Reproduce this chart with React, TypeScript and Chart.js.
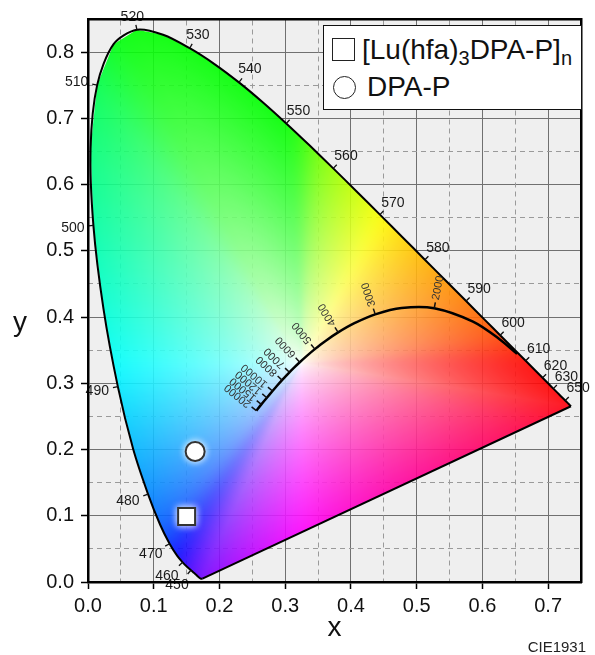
import React, { useEffect, useRef } from 'react';
import { Chart, registerables } from 'chart.js';

Chart.register(...registerables);

// CIE 1931 2° spectral locus (wavelength in nm, chromaticity x, y)
const LOCUS_NM = [380, 400, 420, 430, 440, 445, 450, 455, 460, 465, 470, 475, 480, 485, 490, 495, 500, 505, 510, 515, 520, 525, 530, 535, 540, 545, 550, 555, 560, 565, 570, 575, 580, 585, 590, 595, 600, 605, 610, 615, 620, 625, 630, 635, 640, 645, 650, 655, 660, 670, 680, 690, 700];
const LOCUS_X = [0.1741, 0.1733, 0.1714, 0.1689, 0.1644, 0.1611, 0.1566, 0.1510, 0.1440, 0.1355, 0.1241, 0.1096, 0.0913, 0.0687, 0.0454, 0.0235, 0.0082, 0.0039, 0.0139, 0.0389, 0.0743, 0.1142, 0.1547, 0.1929, 0.2296, 0.2658, 0.3016, 0.3373, 0.3731, 0.4087, 0.4441, 0.4788, 0.5125, 0.5448, 0.5752, 0.6029, 0.6270, 0.6482, 0.6658, 0.6801, 0.6915, 0.7006, 0.7079, 0.7140, 0.7190, 0.7230, 0.7260, 0.7283, 0.7300, 0.7320, 0.7334, 0.7340, 0.7347];
const LOCUS_Y = [0.0050, 0.0048, 0.0051, 0.0069, 0.0109, 0.0138, 0.0177, 0.0227, 0.0297, 0.0399, 0.0578, 0.0868, 0.1327, 0.2007, 0.2950, 0.4127, 0.5384, 0.6548, 0.7502, 0.8120, 0.8338, 0.8262, 0.8059, 0.7816, 0.7543, 0.7243, 0.6923, 0.6589, 0.6245, 0.5896, 0.5547, 0.5202, 0.4866, 0.4544, 0.4242, 0.3965, 0.3725, 0.3514, 0.3340, 0.3197, 0.3083, 0.2993, 0.2920, 0.2859, 0.2809, 0.2770, 0.2740, 0.2717, 0.2700, 0.2680, 0.2666, 0.2660, 0.2653];
const WL_LABELS = [450, 460, 470, 480, 490, 500, 510, 520, 530, 540, 550, 560, 570, 580, 590, 600, 610, 620, 630, 650];

// Planckian locus (colour temperature in K, chromaticity x, y)
const CCT_K = [1000, 1200, 1500, 2000, 2500, 3000, 3500, 4000, 4500, 5000, 5500, 6000, 6500, 7000, 8000, 9000, 10000, 12000, 15000, 20000];
const CCT_X = [0.6528, 0.6251, 0.5857, 0.5267, 0.4770, 0.4369, 0.4053, 0.3805, 0.3608, 0.3451, 0.3325, 0.3221, 0.3135, 0.3064, 0.2952, 0.2869, 0.2807, 0.2721, 0.2637, 0.2560];
const CCT_Y = [0.3444, 0.3674, 0.3931, 0.4133, 0.4137, 0.4041, 0.3907, 0.3768, 0.3636, 0.3516, 0.3411, 0.3318, 0.3236, 0.3166, 0.3048, 0.2956, 0.2884, 0.2782, 0.2682, 0.2587];
const CCT_LABELS = [2000, 3000, 4000, 5000, 6000, 7000, 8000, 10000, 12000, 15000, 20000];

// Samples
const SAMPLE_NAMES = ['[Lu(hfa)3DPA-P]n', 'DPA-P'];
const SAMPLE_X = [0.150, 0.163];
const SAMPLE_Y = [0.099, 0.197];

// Axes
const X_MIN = 0, X_MAX = 0.75, Y_MIN = 0, Y_MAX = 0.85;
const MAJOR_STEP = 0.1, MINOR_STEP = 0.05;

// white point used for the colour fill
const WHITE_X = 0.325, WHITE_Y = 0.33;

const FONT = '"Liberation Sans", Arial, Helvetica, sans-serif';

function isMajor(v: number) {
  return Math.abs(v * 10 - Math.round(v * 10)) < 1e-6;
}

function xyToRgb(x: number, y: number): [number, number, number] {
  const yy = Math.max(y, 0.0005);
  const X = x / yy, Y = 1, Z = (1 - x - yy) / yy;
  let r = 3.2406 * X - 1.5372 * Y - 0.4986 * Z;
  let g = -0.9689 * X + 1.8758 * Y + 0.0415 * Z;
  let b = 0.0557 * X - 0.2040 * Y + 1.0570 * Z;
  r = Math.max(r, 0); g = Math.max(g, 0); b = Math.max(b, 0);
  const m = Math.max(r, g, b) || 1;
  const gam = (c: number) => {
    c = c / m;
    return c <= 0.0031308 ? 12.92 * c : 1.055 * Math.pow(c, 1 / 2.4) - 0.055;
  };
  return [gam(r) * 255, gam(g) * 255, gam(b) * 255];
}

function circularBlur(src: Float32Array, n: number, radius: number) {
  let a = src;
  for (let pass = 0; pass < 3; pass++) {
    const out = new Float32Array(n * 3);
    for (let c = 0; c < 3; c++) {
      let sum = 0;
      for (let k = -radius; k <= radius; k++) sum += a[(((k % n) + n) % n) * 3 + c];
      for (let i = 0; i < n; i++) {
        out[i * 3 + c] = sum / (2 * radius + 1);
        const rem = (((i - radius) % n) + n) % n;
        const add = (i + radius + 1) % n;
        sum += a[add * 3 + c] - a[rem * 3 + c];
      }
    }
    a = out;
  }
  return a;
}

// boundary lookup: for each direction from the white point, distance to the gamut edge and its colour
function buildBoundaryLut(n: number) {
  const dist = new Float32Array(n);
  const col = new Float32Array(n * 3);
  const m = LOCUS_X.length;
  for (let k = 0; k < n; k++) {
    const th = (k / n) * Math.PI * 2 - Math.PI;
    const dx = Math.cos(th), dy = Math.sin(th);
    let best = Infinity;
    for (let e = 0; e < m; e++) {
      const ax = LOCUS_X[e], ay = LOCUS_Y[e];
      const bx = LOCUS_X[(e + 1) % m], by = LOCUS_Y[(e + 1) % m];
      const ex = bx - ax, ey = by - ay;
      const den = dx * ey - dy * ex;
      if (Math.abs(den) < 1e-12) continue;
      const wx = ax - WHITE_X, wy = ay - WHITE_Y;
      const s = (wx * ey - wy * ex) / den;
      const u = (wx * dy - wy * dx) / den;
      if (s > 0 && u >= -1e-9 && u <= 1 + 1e-9 && s < best) best = s;
    }
    if (!isFinite(best)) best = 0.3;
    dist[k] = best;
    const c = xyToRgb(WHITE_X + dx * best * 0.99, WHITE_Y + dy * best * 0.99);
    col[k * 3] = c[0]; col[k * 3 + 1] = c[1]; col[k * 3 + 2] = c[2];
  }
  return { dist, col: circularBlur(col, n, 28) };
}

const bgPlugin = {
  id: 'plotBg',
  beforeDraw(chart: any) {
    const { ctx, chartArea: a } = chart;
    ctx.save();
    ctx.fillStyle = '#efefef';
    ctx.fillRect(a.left, a.top, a.right - a.left, a.bottom - a.top);
    ctx.restore();
  },
};

const gamutPlugin = {
  id: 'gamutFill',
  beforeDatasetsDraw(chart: any) {
    const { ctx, chartArea: a, scales } = chart;
    const xs = scales.x, ys = scales.y;
    const N = 4096;
    const lut = buildBoundaryLut(N);
    const w = Math.ceil(a.right - a.left), h = Math.ceil(a.bottom - a.top);
    const off = document.createElement('canvas');
    off.width = w; off.height = h;
    const octx = off.getContext('2d')!;
    const img = octx.createImageData(w, h);
    const d = img.data;
    for (let j = 0; j < h; j++) {
      const cy = ys.getValueForPixel(a.top + j + 0.5);
      for (let i = 0; i < w; i++) {
        const cx = xs.getValueForPixel(a.left + i + 0.5);
        const dx = cx - WHITE_X, dy = cy - WHITE_Y;
        const th = Math.atan2(dy, dx);
        let k = Math.floor(((th + Math.PI) / (Math.PI * 2)) * N);
        if (k < 0) k = 0; if (k >= N) k = N - 1;
        let t = Math.hypot(dx, dy) / lut.dist[k];
        if (t > 1) t = 1;
        const f = Math.pow(t, 0.7);
        const p = (j * w + i) * 4;
        d[p] = 255 * (1 - f) + lut.col[k * 3] * f;
        d[p + 1] = 255 * (1 - f) + lut.col[k * 3 + 1] * f;
        d[p + 2] = 255 * (1 - f) + lut.col[k * 3 + 2] * f;
        d[p + 3] = 255;
      }
    }
    octx.putImageData(img, 0, 0);
    ctx.save();
    ctx.beginPath();
    LOCUS_X.forEach((x, i) => {
      const px = xs.getPixelForValue(x), py = ys.getPixelForValue(LOCUS_Y[i]);
      if (i === 0) ctx.moveTo(px, py); else ctx.lineTo(px, py);
    });
    ctx.closePath();
    ctx.clip();
    ctx.globalAlpha = 0.9;
    ctx.drawImage(off, a.left, a.top);
    ctx.restore();
  },
};

const glowPlugin = {
  id: 'markerGlow',
  beforeDatasetDraw(chart: any, args: any) {
    if (chart.data.datasets[args.index]._glow) {
      chart.ctx.save();
      chart.ctx.shadowColor = 'rgba(255,255,255,1)';
      chart.ctx.shadowBlur = 7;
    }
  },
  afterDatasetDraw(chart: any, args: any) {
    if (chart.data.datasets[args.index]._glow) chart.ctx.restore();
  },
};

const annotPlugin = {
  id: 'annotations',
  afterDatasetsDraw(chart: any) {
    const { ctx, scales } = chart;
    const xs = scales.x, ys = scales.y;
    const P = (x: number, y: number) => [xs.getPixelForValue(x), ys.getPixelForValue(y)];
    ctx.save();
    // wavelength ticks + labels
    ctx.font = `14px ${FONT}`;
    ctx.textAlign = 'center';
    ctx.textBaseline = 'middle';
    WL_LABELS.forEach((nm) => {
      const i = LOCUS_NM.indexOf(nm);
      if (i < 0) return;
      const [px, py] = P(LOCUS_X[i], LOCUS_Y[i]);
      const [ax, ay] = P(LOCUS_X[i - 1], LOCUS_Y[i - 1]);
      const [bx, by] = P(LOCUS_X[i + 1], LOCUS_Y[i + 1]);
      let tx = bx - ax, ty = by - ay;
      const tl = Math.hypot(tx, ty) || 1;
      tx /= tl; ty /= tl;
      const nx = ty, ny = -tx;
      ctx.strokeStyle = '#111';
      ctx.lineWidth = 1.3;
      ctx.beginPath();
      ctx.moveTo(px, py);
      ctx.lineTo(px + nx * 5, py + ny * 5);
      ctx.stroke();
      const label = String(nm);
      const hw = ctx.measureText(label).width / 2, hh = 5;
      const dist = 6.5 + Math.abs(nx) * hw + Math.abs(ny) * hh;
      const cx = nx < 0 ? -2 : 0;
      ctx.fillStyle = '#1a1a1a';
      ctx.fillText(label, px + nx * dist + cx, py + ny * dist + 1);
    });
    // CCT ticks + labels
    ctx.font = `11px ${FONT}`;
    ctx.textAlign = 'left';
    CCT_LABELS.forEach((k) => {
      const i = CCT_K.indexOf(k);
      if (i < 0) return;
      const [px, py] = P(CCT_X[i], CCT_Y[i]);
      const i0 = Math.max(0, i - 1), i1 = Math.min(CCT_K.length - 1, i + 1);
      const [ax, ay] = P(CCT_X[i0], CCT_Y[i0]);
      const [bx, by] = P(CCT_X[i1], CCT_Y[i1]);
      let tx = bx - ax, ty = by - ay;
      const tl = Math.hypot(tx, ty) || 1;
      tx /= tl; ty /= tl;
      const nx = -ty, ny = tx;
      ctx.strokeStyle = '#111';
      ctx.lineWidth = 1.5;
      ctx.beginPath();
      ctx.moveTo(px, py);
      ctx.lineTo(px + nx * 6, py + ny * 6);
      ctx.stroke();
      ctx.save();
      ctx.translate(px + nx * 8.5, py + ny * 8.5);
      ctx.rotate(Math.atan2(ny, nx));
      ctx.fillStyle = '#333';
      ctx.fillText(String(k), 0, 0);
      ctx.restore();
    });
    ctx.restore();
  },
  afterDraw(chart: any) {
    const { ctx, chartArea: a } = chart;
    ctx.save();
    ctx.fillStyle = '#111';
    ctx.textBaseline = 'alphabetic';
    ctx.font = `28px ${FONT}`;
    ctx.textAlign = 'center';
    ctx.fillText('x', (a.left + a.right) / 2, 636);
    ctx.fillText('y', 20, 331);
    ctx.font = `15px ${FONT}`;
    ctx.textAlign = 'right';
    ctx.fillStyle = '#222';
    ctx.fillText('CIE1931', 586, 652);
    ctx.restore();
  },
};

export default function App() {
  const ref = useRef<HTMLCanvasElement | null>(null);

  useEffect(() => {
    if (!ref.current) return;
    const locus = LOCUS_X.map((x, i) => ({ x, y: LOCUS_Y[i] }));
    const purple = [
      { x: LOCUS_X[LOCUS_X.length - 1], y: LOCUS_Y[LOCUS_Y.length - 1] },
      { x: LOCUS_X[0], y: LOCUS_Y[0] },
    ];
    const planck = CCT_X.map((x, i) => ({ x, y: CCT_Y[i] }));

    const tickFont = { family: FONT, size: 20 };
    const chart = new Chart(ref.current, {
      type: 'scatter',
      data: {
        datasets: [
          { label: 'spectral locus', data: locus, showLine: true, borderColor: '#000', borderWidth: 2, pointRadius: 0, tension: 0.3, fill: false } as any,
          { label: 'purple line', data: purple, showLine: true, borderColor: '#000', borderWidth: 2, pointRadius: 0, tension: 0, fill: false } as any,
          { label: 'Planckian locus', data: planck, showLine: true, borderColor: '#000', borderWidth: 2.5, pointRadius: 0, tension: 0.3, fill: false } as any,
          { label: SAMPLE_NAMES[0], data: [{ x: SAMPLE_X[0], y: SAMPLE_Y[0] }], pointStyle: 'rect', pointRadius: 12, backgroundColor: '#ffffff', borderColor: '#333', borderWidth: 2, _glow: true } as any,
          { label: SAMPLE_NAMES[1], data: [{ x: SAMPLE_X[1], y: SAMPLE_Y[1] }], pointStyle: 'circle', pointRadius: 9.5, backgroundColor: '#ffffff', borderColor: '#333', borderWidth: 2, _glow: true } as any,
        ],
      },
      options: {
        animation: false,
        responsive: false,
        devicePixelRatio: 1,
        layout: { padding: 0 },
        plugins: { legend: { display: false }, tooltip: { enabled: false } },
        scales: {
          x: {
            type: 'linear', position: 'bottom', min: X_MIN, max: X_MAX,
            ticks: { stepSize: MAJOR_STEP, includeBounds: false, font: tickFont, color: '#111', padding: 5, callback: (v: any) => Number(v).toFixed(1) },
            grid: { color: '#707070', lineWidth: 1, tickLength: 7, tickColor: '#000', tickWidth: 1.5 },
            border: { display: true, color: '#000', width: 2.5, z: 1 },
            afterFit: (s: any) => { s.height = 73; },
          },
          y: {
            type: 'linear', position: 'left', min: Y_MIN, max: Y_MAX,
            ticks: { stepSize: MAJOR_STEP, includeBounds: false, font: tickFont, color: '#111', padding: 7, callback: (v: any) => Number(v).toFixed(1) },
            grid: { color: '#707070', lineWidth: 1, tickLength: 7, tickColor: '#000', tickWidth: 1.5 },
            border: { display: true, color: '#000', width: 2.5, z: 1 },
            afterFit: (s: any) => { s.width = 88; },
          },
          x2: {
            type: 'linear', position: 'top', min: X_MIN, max: X_MAX,
            ticks: { stepSize: MINOR_STEP, includeBounds: false, display: false },
            grid: { drawTicks: false, lineWidth: 1, color: (c: any) => (c.tick && isMajor(c.tick.value) ? 'rgba(0,0,0,0)' : '#9a9a9a') },
            border: { display: true, color: '#000', width: 2.5, dash: [5, 4], z: 1 },
            afterFit: (s: any) => { s.height = 17; },
          },
          y2: {
            type: 'linear', position: 'right', min: Y_MIN, max: Y_MAX,
            ticks: { stepSize: MINOR_STEP, includeBounds: false, display: false },
            grid: { drawTicks: false, lineWidth: 1, color: (c: any) => (c.tick && isMajor(c.tick.value) ? 'rgba(0,0,0,0)' : '#9a9a9a') },
            border: { display: true, color: '#000', width: 2.5, dash: [5, 4], z: 1 },
            afterFit: (s: any) => { s.width = 10; },
          },
        },
      } as any,
      plugins: [bgPlugin, gamutPlugin, glowPlugin, annotPlugin],
    });
    return () => chart.destroy();
  }, []);

  const rowText: React.CSSProperties = { fontFamily: FONT, fontSize: 28, color: '#111', lineHeight: '32px', whiteSpace: 'nowrap' };
  const sub: React.CSSProperties = { fontSize: 20, verticalAlign: '-0.3em', lineHeight: 0 };

  return (
    <div style={{ position: 'absolute', left: 0, top: 0, width: 595, height: 655, background: '#fff' }}>
      <canvas ref={ref} width={595} height={655} style={{ display: 'block' }} />
      <div style={{ position: 'absolute', left: 323, top: 25, width: 257, height: 83, background: '#fff', border: '1.5px solid #111' }}>
        <div style={{ position: 'absolute', left: 8, top: 12, width: 21, height: 21, border: '1.5px solid #222', background: '#fff' }} />
        <div style={{ ...rowText, position: 'absolute', left: 38, top: 8 }}>
          [Lu(hfa)<span style={sub}>3</span>DPA-P]<span style={sub}>n</span>
        </div>
        <div style={{ position: 'absolute', left: 9, top: 50, width: 21, height: 21, borderRadius: '50%', border: '1.5px solid #222', background: '#fff' }} />
        <div style={{ ...rowText, position: 'absolute', left: 43, top: 45 }}>DPA-P</div>
      </div>
    </div>
  );
}
